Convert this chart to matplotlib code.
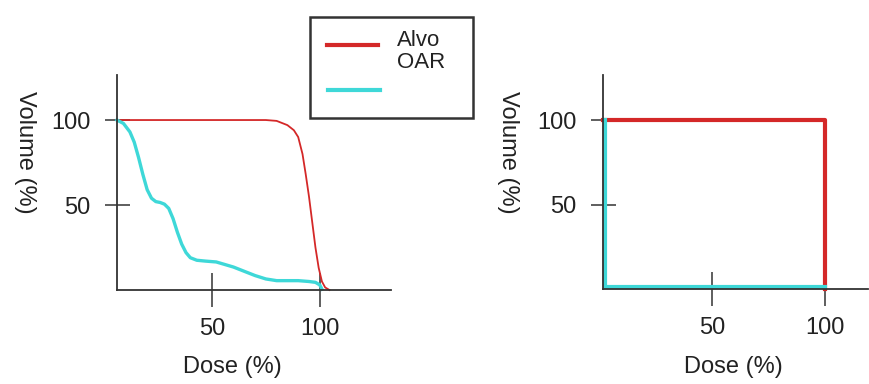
import matplotlib
matplotlib.use('Agg')
import matplotlib.pyplot as plt
from matplotlib.lines import Line2D
from matplotlib.patches import Rectangle

plt.rcParams['font.family'] = ['Liberation Sans', 'DejaVu Sans']

# dados
series_names = ['Alvo', 'OAR']

# DVH real (esquerda)
alvo_dose = [6, 30, 60, 75, 80, 85, 88, 90, 92, 93.5, 95, 96.5, 98, 99.5, 101, 102.5, 104.5]
alvo_vol = [100, 100, 100, 100, 99.5, 97, 94, 90, 80, 68, 55, 40, 25, 13, 5, 1.5, 0]

oar_dose = [6, 9, 12, 14, 16, 18, 20, 22, 24, 26, 28, 30, 32, 34, 36, 38, 40, 43, 47, 52,
            56, 60, 65, 70, 75, 80, 85, 90, 95, 98, 100, 101]
oar_vol = [100, 98, 93, 87, 78, 68, 59, 54, 52, 51.5, 50.5, 48, 42, 34, 27, 22, 19, 17.5, 17, 16.5,
           15, 13.5, 11, 8.5, 6.5, 5.5, 5.5, 5.5, 5, 4.5, 3, 0.5]

# DVH ideal (direita)
ideal_alvo_dose = [2, 100, 100]
ideal_alvo_vol = [100, 100, 0]
ideal_oar_dose = [3, 3, 100]
ideal_oar_vol = [100, 1, 1]

ticks = [50, 100]

RED = '#d42828'
CYAN = '#3ed8d8'
AX = '#333333'

fig = plt.figure(figsize=(8.69, 3.84), dpi=100)


def style(ax, xlim, ylim):
    ax.set_xlim(*xlim)
    ax.set_ylim(*ylim)
    for s in ['top', 'right']:
        ax.spines[s].set_visible(False)
    for s in ['left', 'bottom']:
        ax.spines[s].set_color(AX)
        ax.spines[s].set_linewidth(1.3)
    ax.set_xticks(ticks)
    ax.set_yticks(ticks)
    ax.tick_params(axis='x', direction='inout', length=24, width=1.1, color=AX,
                   labelsize=17, pad=8, labelcolor='#222222')
    ax.tick_params(axis='y', direction='inout', length=18, width=1.1, color=AX,
                   labelsize=17, pad=10, labelcolor='#222222')
    ax.patch.set_visible(False)


# painel esquerdo
ax1 = fig.add_axes([0.1346, 0.2448, 0.3153, 0.5599])
ax1.plot(alvo_dose, alvo_vol, color=RED, lw=1.3, clip_on=False)
ax1.plot(oar_dose, oar_vol, color=CYAN, lw=2.4, clip_on=False)
style(ax1, (6, 133), (0, 126.5))

# painel direito
ax2 = fig.add_axes([0.6939, 0.2474, 0.305, 0.5573])
ax2.plot(ideal_alvo_dose, ideal_alvo_vol, color=RED, lw=3, clip_on=False)
ax2.plot(ideal_oar_dose, ideal_oar_vol, color=CYAN, lw=3, clip_on=False)
style(ax2, (2, 119), (0, 127))

# rótulos dos eixos
for x in [0.0288, 0.5846]:
    fig.text(x, 0.604, 'Volume (%)', rotation=270, ha='center', va='center',
             fontsize=17, color='#222222')
for x in [0.267, 0.8435]:
    fig.text(x, 0.045, 'Dose (%)', ha='center', va='center', fontsize=17, color='#222222')

# legenda manual
fig.patches.append(Rectangle((0.3567, 0.6927), 0.1876, 0.263, transform=fig.transFigure,
                             fill=False, edgecolor=AX, lw=1.8))
fig.lines.append(Line2D([0.3763, 0.435], [0.8828, 0.8828], transform=fig.transFigure,
                        color=RED, lw=3))
fig.lines.append(Line2D([0.3774, 0.4373], [0.7656, 0.7656], transform=fig.transFigure,
                        color=CYAN, lw=3))
fig.text(0.4568, 0.8958, series_names[0], ha='left', va='center', fontsize=16, color='#222222')
fig.text(0.4568, 0.8385, series_names[1], ha='left', va='center', fontsize=16, color='#222222')

fig.savefig('out.png', dpi=100)
